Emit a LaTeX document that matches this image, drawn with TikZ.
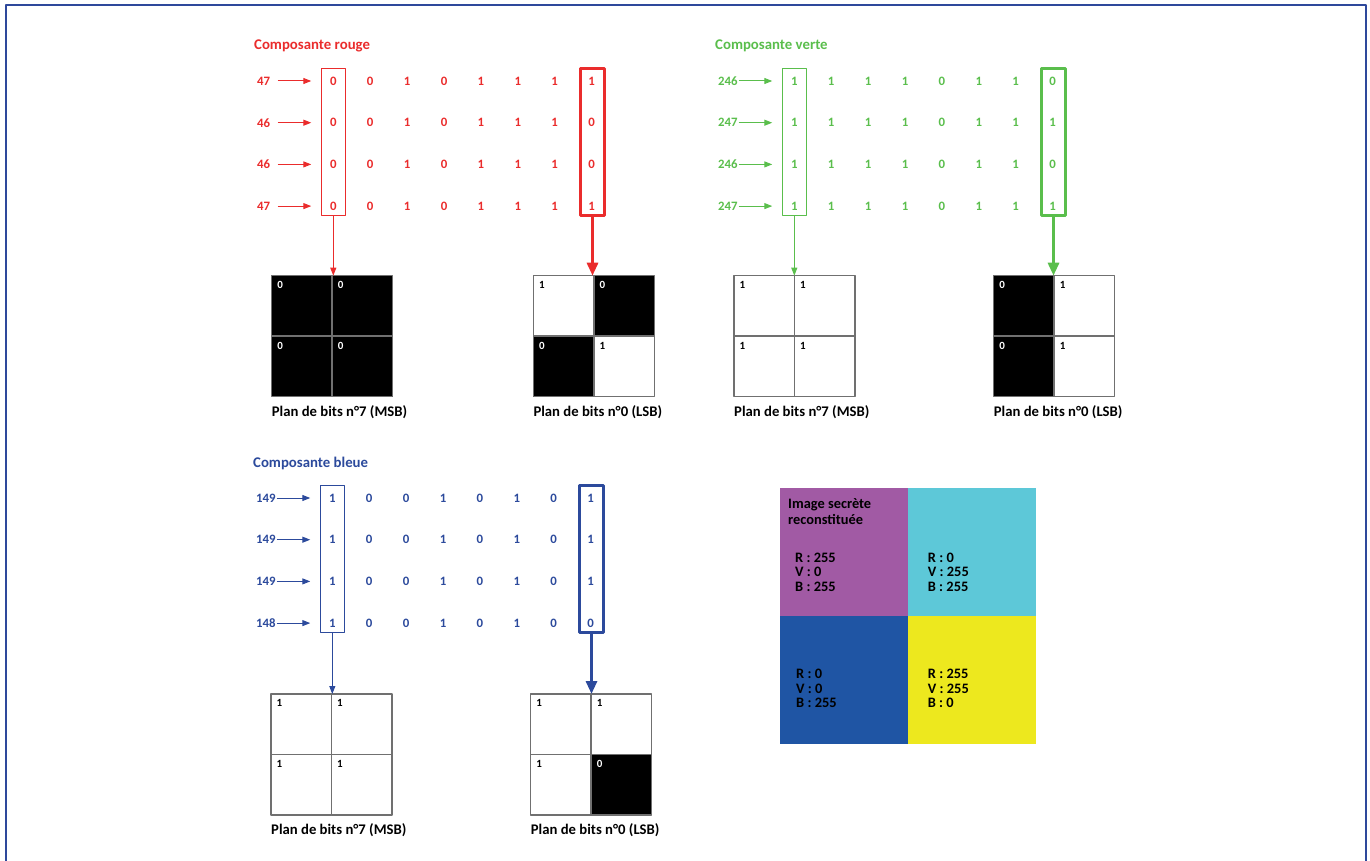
\documentclass[tikz,border=0pt]{standalone}
\usepackage{fontspec}
\setmainfont{Carlito}
\usetikzlibrary{arrows.meta}
\definecolor{rouge}{RGB}{234,44,44}
\definecolor{verte}{RGB}{90,190,76}
\definecolor{bleue}{RGB}{44,74,156}
\definecolor{cadre}{RGB}{46,72,155}
\definecolor{grille}{RGB}{112,112,112}
\definecolor{magenta}{RGB}{161,90,164}
\definecolor{cyan}{RGB}{93,200,216}
\definecolor{bleufonce}{RGB}{31,85,164}
\definecolor{jaune}{RGB}{237,232,30}
\tikzset{
  digit/.style={font=\fontsize{12.8}{15}\selectfont\bfseries, inner sep=0pt},
  titre/.style={font=\fontsize{14.8}{17}\selectfont\bfseries, inner sep=0pt, anchor=west},
  legende/.style={font=\fontsize{14.7}{17}\selectfont\bfseries, inner sep=0pt, anchor=west},
  cell/.style={draw=grille, line width=1.5pt, minimum size=60.5pt, inner sep=0pt, outer sep=0pt, anchor=north west},
  celldigit/.style={font=\fontsize{11}{13}\selectfont\bfseries, inner sep=0pt},
  msbbox/.style={draw, line width=1pt, minimum width=24pt, minimum height=147pt, inner sep=0pt},
  lsbbox/.style={draw, line width=3pt, minimum width=24pt, minimum height=147pt, inner sep=0pt},
  thinarrow/.style={line width=1pt, -{Triangle[length=8pt,width=6pt]}},
  thickarrow/.style={line width=3pt, -{Triangle[length=13pt,width=11pt]}},
  carre/.style={minimum size=128pt, inner sep=0pt, outer sep=0pt, anchor=north west},
  rgbtext/.style={font=\fontsize{14.4}{16}\selectfont\bfseries, inner sep=0pt, anchor=west},
}
% one cell of a bit plane: name, x, y (top left), bit
\newcommand\bitcell[4]{%
  \ifnum#4=0\relax
    \node[cell, fill=black] (#1) at (#2,#3) {};
    \node[celldigit, text=white] (#1-d) at ([xshift=8.5pt,yshift=-9.3pt]#1.north west) {#4};
  \else
    \node[cell, fill=white] (#1) at (#2,#3) {};
    \node[celldigit, text=black] (#1-d) at ([xshift=8.5pt,yshift=-9.3pt]#1.north west) {#4};
  \fi}
% 2x2 bit plane: name, x, y, caption, bits
\newcommand\bitplane[8]{%
  \bitcell{#1-a}{#2}{#3}{#5}
  \bitcell{#1-b}{#2+60.5}{#3}{#6}
  \bitcell{#1-c}{#2}{#3+60.5}{#7}
  \bitcell{#1-d}{#2+60.5}{#3+60.5}{#8}
  \coordinate (#1) at (#2+60.5,#3);
  \node[legende] (#1-cap) at (#2,#3+136) {#4};}
% values and their bits: prefix, colour, dx, dy, title, rows
\newcommand\composante[6]{%
  \begin{scope}[shift={(#3,#4)}]
    \node[titre, text=#2] (#1-titre) at (254,46) {#5};
    \foreach \v/\bits [count=\r] in {#6} {
      \node[digit, anchor=west, text=#2] (#1-n\r) at (257,{81+(\r-1)*41.7}) {\v};
      \foreach \d [count=\c] in \bits
        \node[digit, text=#2] (#1-\r-\c) at ({333.3+(\c-1)*36.9},{81+(\r-1)*41.7}) {\d};
      \draw[thinarrow, #2] ([xshift=20.5pt]#1-n\r.west) -- ([xshift=-22pt]#1-\r-1.center);
    }
    \node[msbbox, draw=#2] (#1-msb) at (333.3,142.3) {};
    \node[lsbbox, draw=#2] (#1-lsb) at (592.5,142.3) {};
  \end{scope}}
\begin{document}
\begin{tikzpicture}[x=1pt,y=-1pt,line join=round]
  \useasboundingbox (0,0) rectangle (1370,861);
  \draw[cadre, line width=2.3pt] (6,870) -- (6,5) -- (1366,5) -- (1366,870);

  \composante{r}{rouge}{0}{0}{Composante rouge}{47/{0,0,1,0,1,1,1,1}, 46/{0,0,1,0,1,1,1,0}, 46/{0,0,1,0,1,1,1,0}, 47/{0,0,1,0,1,1,1,1}}
  \composante{v}{verte}{461}{0}{Composante verte}{246/{1,1,1,1,0,1,1,0}, 247/{1,1,1,1,0,1,1,1}, 246/{1,1,1,1,0,1,1,0}, 247/{1,1,1,1,0,1,1,1}}
  \composante{b}{bleue}{-1}{417}{Composante bleue}{149/{1,0,0,1,0,1,0,1}, 149/{1,0,0,1,0,1,0,1}, 149/{1,0,0,1,0,1,0,1}, 148/{1,0,0,1,0,1,0,0}}

  \bitplane{r-p7}{271.7}{275.7}{Plan de bits n°7 (MSB)}{0}{0}{0}{0}
  \bitplane{r-p0}{533.3}{275.7}{Plan de bits n°0 (LSB)}{1}{0}{0}{1}
  \bitplane{v-p7}{734}{275.7}{Plan de bits n°7 (MSB)}{1}{1}{1}{1}
  \bitplane{v-p0}{993.7}{275.7}{Plan de bits n°0 (LSB)}{0}{1}{0}{1}
  \bitplane{b-p7}{271}{694}{Plan de bits n°7 (MSB)}{1}{1}{1}{1}
  \bitplane{b-p0}{530.7}{694}{Plan de bits n°0 (LSB)}{1}{1}{1}{0}

  \draw[thinarrow, rouge] (r-msb.south) -- (r-msb.south |- r-p7);
  \draw[thickarrow, rouge] (r-lsb.south) -- (r-lsb.south |- r-p0);
  \draw[thinarrow, verte] (v-msb.south) -- (v-msb.south |- v-p7);
  \draw[thickarrow, verte] (v-lsb.south) -- (v-lsb.south |- v-p0);
  \draw[thinarrow, bleue] (b-msb.south) -- (b-msb.south |- b-p7);
  \draw[thickarrow, bleue] (b-lsb.south) -- (b-lsb.south |- b-p0);

  % image secrete
  \node[carre, fill=magenta] (sq-a) at (780,488) {};
  \node[carre, fill=cyan] (sq-b) at (908,488) {};
  \node[carre, fill=bleufonce] (sq-c) at (780,616) {};
  \node[carre, fill=jaune] (sq-d) at (908,616) {};
  \node[rgbtext] (img-1) at (788,505) {Image secrète};
  \node[rgbtext] (img-2) at (788,519.3) {reconstituée};
  \foreach \t [count=\k] in {R : 255, V : 0, B : 255}
    \node[rgbtext] (sq-a\k) at (795,{557.7+(\k-1)*14.5}) {\t};
  \foreach \t [count=\k] in {R : 0, V : 255, B : 255}
    \node[rgbtext] (sq-b\k) at (927.7,{557.7+(\k-1)*14.5}) {\t};
  \foreach \t [count=\k] in {R : 0, V : 0, B : 255}
    \node[rgbtext] (sq-c\k) at (796,{674+(\k-1)*14.5}) {\t};
  \foreach \t [count=\k] in {R : 255, V : 255, B : 0}
    \node[rgbtext] (sq-d\k) at (927.7,{674+(\k-1)*14.5}) {\t};
\end{tikzpicture}
\end{document}
